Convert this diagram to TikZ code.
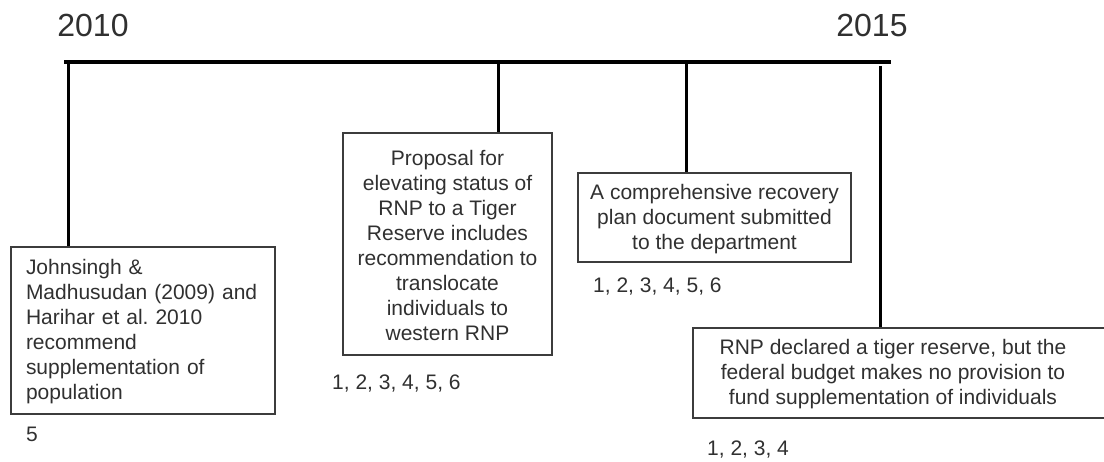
\documentclass[tikz,border=0pt]{standalone}
\usepackage{fontspec}
\setmainfont{Liberation Sans}
\frenchspacing
\definecolor{txt}{HTML}{303030}
\definecolor{frame}{HTML}{3C3C3C}
\begin{document}
\begin{tikzpicture}[x=1pt,y=-1pt,
  evbox/.style={draw=frame, line width=1.5pt, inner sep=0pt},
  evtext/.style={text=txt, font=\fontsize{21}{25}\selectfont, inner sep=0pt, align=center},
  yearlab/.style={text=txt, font=\fontsize{32}{36}\selectfont, inner sep=0pt, anchor=base},
  reflab/.style={text=txt, font=\fontsize{21}{25}\selectfont, inner sep=0pt, anchor=base west},
  axis/.style={line width=3.2pt, black},
  tick/.style={line width=3pt, black}]
\useasboundingbox (0,0) rectangle (1104,462);

% timeline
\coordinate (L) at (64,62);
\coordinate (R) at (891,62);
\draw[axis] (L) -- (R);
\node[yearlab] (y1) at (93,37) {2010};
\node[yearlab] (y2) at (872,37) {2015};

% tick points
\coordinate (t1) at (68,62);
\coordinate (t2) at (498,62);
\coordinate (t3) at (686,62);
\coordinate (t4) at (880,66);

% box 1
\node[evbox, minimum width=264pt, minimum height=167pt] (b1) at (143,330.5) {};
\node[evtext, text width=234pt, align=left] (b1t) at (143,332) {Johnsingh \&\\Madhusudan (2009) and\\Harihar et al.\ 2010\\recommend\\supplementation of\\population};

% box 2
\node[evbox, minimum width=209pt, minimum height=222pt] (b2) at (447.5,244) {};
\node[evtext] (b2t) at (447.5,245) {Proposal for\\elevating status of\\RNP to a Tiger\\Reserve includes\\recommendation to\\translocate\\individuals to\\western RNP};

% box 3
\node[evbox, minimum width=273pt, minimum height=89pt] (b3) at (714.5,217.5) {};
\node[evtext] (b3t) at (714.5,219) {A comprehensive recovery\\plan document submitted\\to the department};

% box 4
\node[evbox, minimum width=420pt, minimum height=90pt] (b4) at (903,373) {};
\node[evtext] (b4t) at (893,374.5) {RNP declared a tiger reserve, but the\\federal budget makes no provision to\\fund supplementation of individuals};

% connectors
\draw[tick] (t1) -- (t1 |- b1.north);
\draw[tick] (t2) -- (t2 |- b2.north);
\draw[tick] (t3) -- (t3 |- b3.north);
\draw[tick] (t4) -- (t4 |- b4.north);

% reference numbers
\node[reflab] (r1) at (26,442) {5};
\node[reflab] (r2) at (332,390) {1, 2, 3, 4, 5, 6};
\node[reflab] (r3) at (593,293) {1, 2, 3, 4, 5, 6};
\node[reflab] (r4) at (707,456) {1, 2, 3, 4};
\end{tikzpicture}
\end{document}
